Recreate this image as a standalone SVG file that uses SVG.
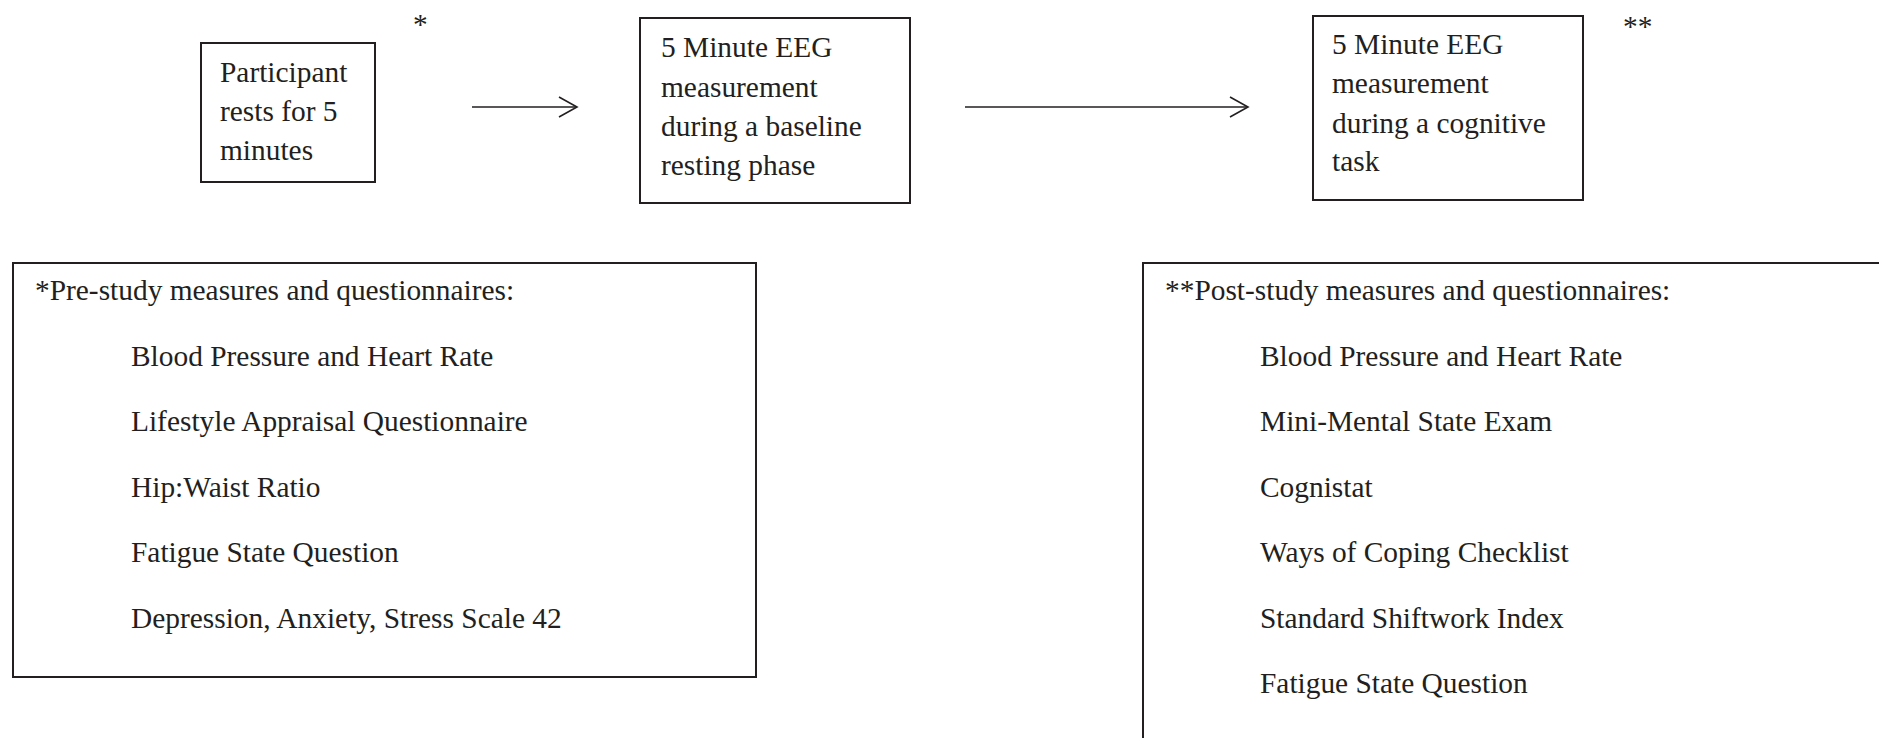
<svg xmlns="http://www.w3.org/2000/svg" width="1879" height="738" viewBox="0 0 1879 738">
  <style>
    .box { fill: #ffffff; stroke: #231f20; stroke-width: 2; }
    .t { font-family: "Liberation Serif", "Times New Roman", serif; font-size: 29.4px; fill: #231f20; }
    .conn { stroke: #231f20; stroke-width: 1.6; fill: none; }
  </style>
  <defs>
    <marker id="open" markerUnits="userSpaceOnUse" markerWidth="22" markerHeight="24" refX="19" refY="11" orient="auto">
      <path d="M1,1 L19,11 L1,21" fill="none" stroke="#231f20" stroke-width="1.6"/>
    </marker>
  </defs>
  <rect width="1879" height="738" fill="#ffffff"/>

  <g id="node-rest">
    <rect class="box" x="201" y="43" width="174" height="139"/>
    <text class="t" x="220" y="82">Participant</text>
    <text class="t" x="220" y="121">rests for 5</text>
    <text class="t" x="220" y="160">minutes</text>
  </g>

  <g id="node-baseline">
    <rect class="box" x="640" y="18" width="270" height="185"/>
    <text class="t" x="661" y="57">5 Minute EEG</text>
    <text class="t" x="661" y="97">measurement</text>
    <text class="t" x="661" y="136">during a baseline</text>
    <text class="t" x="661" y="175">resting phase</text>
  </g>

  <g id="node-task">
    <rect class="box" x="1313" y="16" width="270" height="184"/>
    <text class="t" x="1332" y="54">5 Minute EEG</text>
    <text class="t" x="1332" y="93">measurement</text>
    <text class="t" x="1332" y="133">during a cognitive</text>
    <text class="t" x="1332" y="171">task</text>
  </g>

  <g id="mark-pre">
    <text class="t" x="413" y="34">*</text>
  </g>
  <g id="mark-post">
    <text class="t" x="1623" y="36">**</text>
  </g>

  <g id="node-pre">
    <rect class="box" x="13" y="263" width="743" height="414"/>
    <text class="t" x="35" y="300">*Pre-study measures and questionnaires:</text>
    <text class="t" x="131" y="366">Blood Pressure and Heart Rate</text>
    <text class="t" x="131" y="431">Lifestyle Appraisal Questionnaire</text>
    <text class="t" x="131" y="497">Hip:Waist Ratio</text>
    <text class="t" x="131" y="562">Fatigue State Question</text>
    <text class="t" x="131" y="628">Depression, Anxiety, Stress Scale 42</text>
  </g>

  <g id="node-post">
    <rect class="box" x="1143" y="263" width="760" height="500"/>
    <text class="t" x="1165" y="300">**Post-study measures and questionnaires:</text>
    <text class="t" x="1260" y="366">Blood Pressure and Heart Rate</text>
    <text class="t" x="1260" y="431">Mini-Mental State Exam</text>
    <text class="t" x="1260" y="497">Cognistat</text>
    <text class="t" x="1260" y="562">Ways of Coping Checklist</text>
    <text class="t" x="1260" y="628">Standard Shiftwork Index</text>
    <text class="t" x="1260" y="693">Fatigue State Question</text>
  </g>

  <g id="connectors">
    <line class="conn" x1="472" y1="107" x2="577" y2="107" marker-end="url(#open)"/>
    <line class="conn" x1="965" y1="107" x2="1248" y2="107" marker-end="url(#open)"/>
  </g>
</svg>
